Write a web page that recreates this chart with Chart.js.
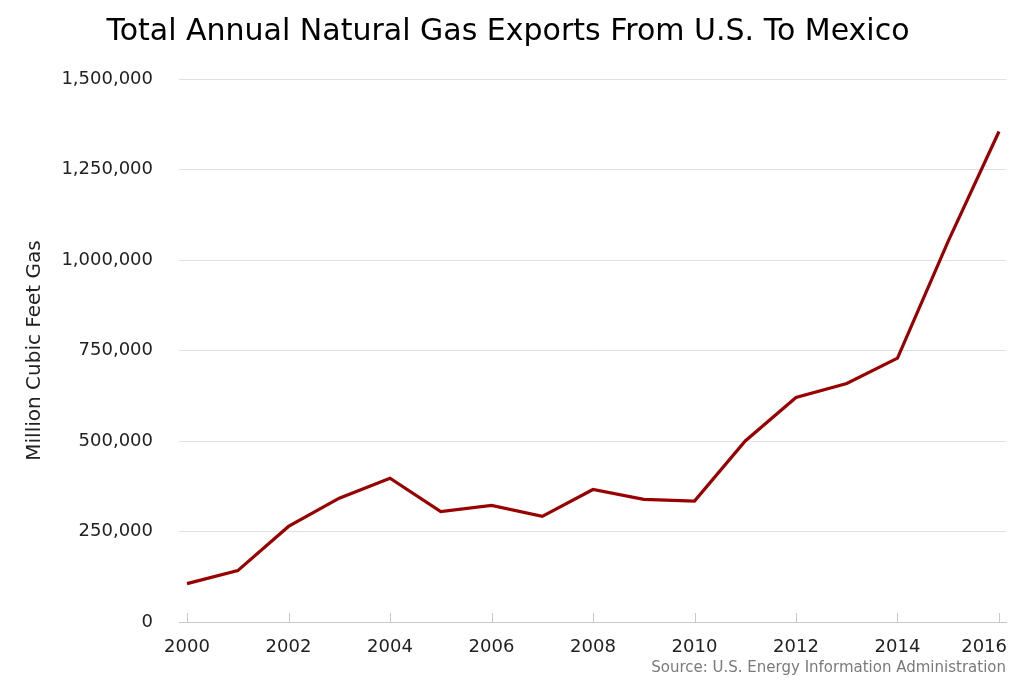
<!DOCTYPE html>
<html>
<head>
<meta charset="utf-8">
<script src="https://cdn.jsdelivr.net/npm/chart.js@4"></script>
<style>
html,body{margin:0;padding:0;background:#fff;}
#wrap{width:1024px;height:683px;}
</style>
</head>
<body>
<div id="wrap"><canvas id="c" width="1024" height="683"></canvas></div>
<script>
const years = [2000,2001,2002,2003,2004,2005,2006,2007,2008,2009,2010,2011,2012,2013,2014,2015,2016];
const exportsMMcf = [106000,142000,264000,342000,397000,305000,322000,292000,366000,339000,334000,500000,620000,659000,729000,1052000,1355000];
const xTickYears = [2000,2002,2004,2006,2008,2010,2012,2014,2016];
const yTicks = [0,250000,500000,750000,1000000,1250000,1500000];
const titleText = 'Total Annual Natural Gas Exports From U.S. To Mexico';
const yTitleText = 'Million Cubic Feet Gas';
const sourceText = 'Source: U.S. Energy Information Administration';

const FONT = '"DejaVu Sans", Verdana, sans-serif';
const TICK_FONT = '18px ' + FONT;

// Draw inside tick marks and x labels (last label kept inside the plot edge)
const xAxisDecor = {
  id: 'xAxisDecor',
  afterDraw(chart) {
    const {ctx, chartArea} = chart;
    const xs = chart.scales.x;
    ctx.save();
    ctx.strokeStyle = '#c8c8c8';
    ctx.lineWidth = 1;
    xTickYears.forEach(v => {
      const px = Math.round(xs.getPixelForValue(v)) + 0.5;
      ctx.beginPath();
      ctx.moveTo(px, chartArea.bottom - 9);
      ctx.lineTo(px, chartArea.bottom);
      ctx.stroke();
    });
    ctx.font = TICK_FONT;
    ctx.fillStyle = '#222';
    ctx.textBaseline = 'middle';
    ctx.textAlign = 'left';
    xTickYears.forEach(v => {
      const t = String(v);
      const w = ctx.measureText(t).width;
      let x = xs.getPixelForValue(v) - w / 2;
      if (x + w > chartArea.right + 1) x = chartArea.right + 1 - w;
      ctx.fillText(t, x, chartArea.bottom + 25);
    });
    ctx.restore();
  }
};

new Chart(document.getElementById('c'), {
  type: 'line',
  data: {
    datasets: [{
      data: years.map((y,i)=>({x:y, y:exportsMMcf[i]})),
      borderColor: '#990000',
      borderWidth: 3.2,
      pointRadius: 0,
      fill: false,
      tension: 0
    }]
  },
  options: {
    responsive: false,
    animation: false,
    devicePixelRatio: 1,
    layout: { padding: { left: 10, right: 18, top: 8, bottom: 6 } },
    plugins: {
      legend: { display: false },
      tooltip: { enabled: false },
      title: {
        display: true, text: titleText, color: '#000',
        font: { family: FONT, size: 30, weight: 'normal' },
        padding: { top: 6, bottom: 29 }
      },
      subtitle: {
        display: true, text: sourceText, position: 'bottom', align: 'end',
        color: '#7a7a7a', font: { family: FONT, size: 15 },
        padding: { top: 5, bottom: 0 }
      }
    },
    scales: {
      x: {
        type: 'linear', min: 1999.842, max: 2016.138,
        afterBuildTicks: (s) => { s.ticks = xTickYears.map(v=>({value:v})); },
        afterFit: (s) => { s.height = 32; },
        ticks: { display: false },
        grid: { drawOnChartArea: false, drawTicks: false, color: '#c8c8c8', lineWidth: 1 },
        border: { display: true, color: '#c8c8c8', width: 1 }
      },
      y: {
        min: 0, max: 1500000,
        afterBuildTicks: (s) => { s.ticks = yTicks.map(v=>({value:v})); },
        afterFit: (s) => { s.width = 169; },
        ticks: { color: '#222', font: { family: FONT, size: 18 }, padding: 26,
          callback: v => v.toLocaleString('en-US') },
        grid: { color: '#e0e0e0', lineWidth: 1, drawTicks: false },
        border: { display: false },
        title: { display: true, text: yTitleText, color: '#222', font: { family: FONT, size: 20 }, padding: { top: 13, bottom: 0 } }
      }
    }
  },
  plugins: [xAxisDecor]
});
</script>
</body>
</html>
